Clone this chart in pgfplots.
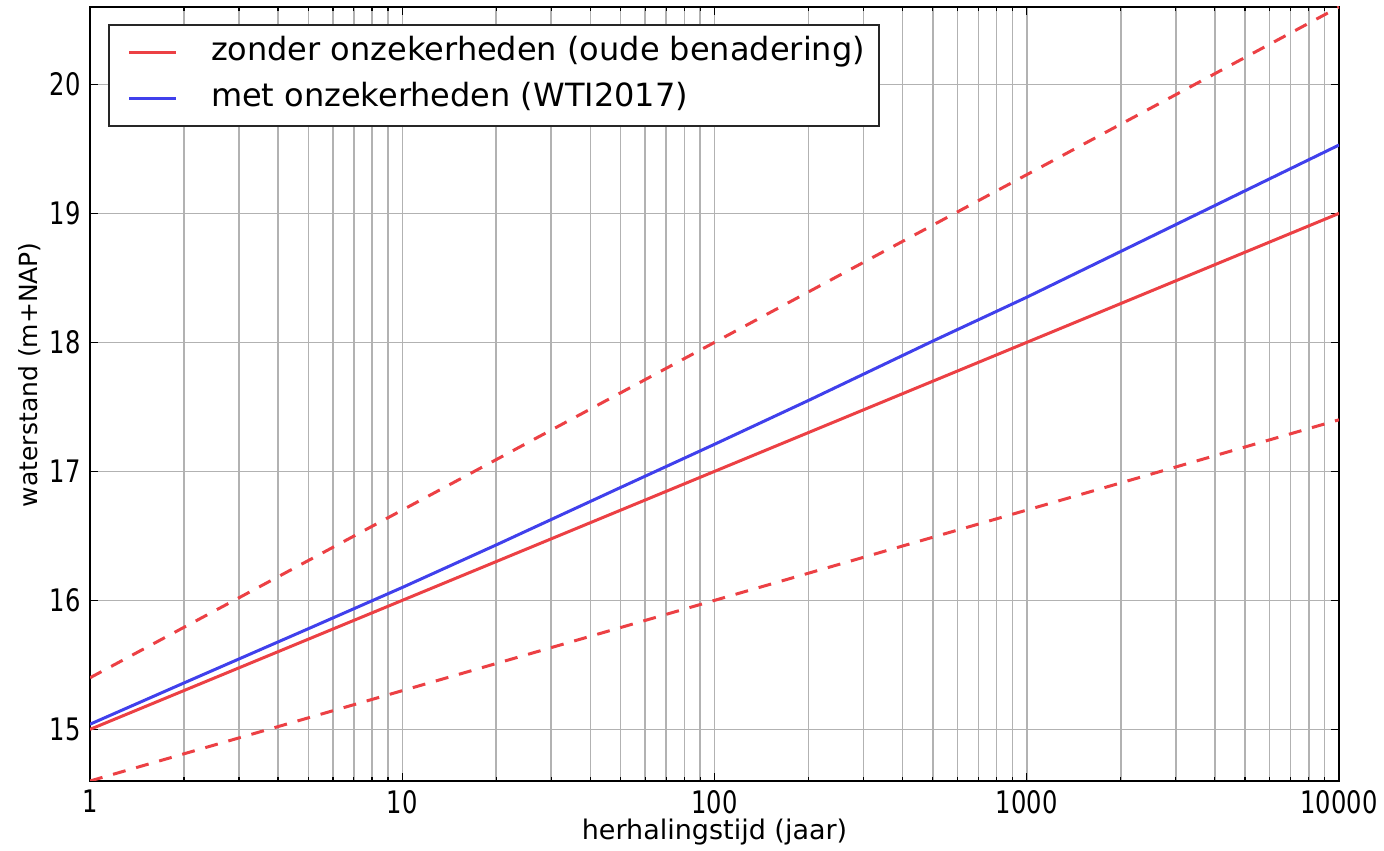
\documentclass[border=0pt]{standalone}
\usepackage{fontspec}
\setmainfont{DejaVu Sans}
\newfontfamily\ticklabelfont{DejaVu Sans}[FakeStretch=0.78]
\usepackage{pgfplots}
\pgfplotsset{compat=1.18}
\usetikzlibrary{calc}

\definecolor{lred}{RGB}{236,64,68}
\definecolor{lblue}{RGB}{64,64,236}
\definecolor{gridgray}{RGB}{178,178,178}

\begin{document}
\begin{tikzpicture}
\begin{axis}[
  scale only axis,
  width=624.5pt, height=387pt,
  xmode=log, log basis x=10,
  xmin=1, xmax=10000,
  ymin=14.6, ymax=20.6,
  xtick={1,10,100,1000,10000},
  xticklabels={1,10,100,1000,10000},
  minor xtick={2,3,4,5,6,7,8,9,
               20,30,40,50,60,70,80,90,
               200,300,400,500,600,700,800,900,
               2000,3000,4000,5000,6000,7000,8000,9000},
  ytick={15,16,17,18,19,20},
  yticklabels={15,16,17,18,19,20},
  tick align=inside,
  xtick pos=both, ytick pos=both,
  major tick length=4pt, minor tick length=2pt,
  every tick/.style={black, line width=0.6pt},
  axis line style={black, line width=1pt},
  xmajorgrids=true, xminorgrids=true, ymajorgrids=true,
  major grid style={gridgray, line width=0.75pt},
  minor grid style={gridgray, line width=0.75pt},
  xticklabel style={font=\fontsize{15.5}{16}\selectfont\ticklabelfont, inner sep=0pt, anchor=north, yshift=-4.5pt},
  yticklabel style={font=\fontsize{15.5}{16}\selectfont\ticklabelfont, inner sep=0pt, anchor=east, xshift=-4.5pt},
  xlabel={herhalingstijd (jaar)},
  ylabel={waterstand (m+NAP)},
  xlabel style={font=\fontsize{13.5}{14}\selectfont, inner sep=0pt, at={(axis description cs:0.5,-0.048)}, anchor=north},
  ylabel style={font=\fontsize{12.5}{14}\selectfont, inner sep=0pt, at={(axis description cs:-0.039,0.525)}, anchor=south, rotate=0},
  legend cell align=left,
  legend image code/.code={%
    \path[draw=none] (0pt,0pt) -- (44pt,0pt);
    \draw[#1] (3pt,0pt) -- (26.5pt,0pt);},
  legend style={
    at={(axis description cs:0,1)}, anchor=north west,
    xshift=9pt, yshift=-8.5pt,
    draw=black!85, line width=1pt, fill=white,
    inner xsep=7pt, inner ysep=6pt,
    row sep=7.5pt,
    font=\fontsize{16}{19}\selectfont,
    nodes={inner sep=0pt, text height=12pt, text depth=3.5pt},
  },
]
% design water level without uncertainties
\addplot[lred, line width=1.5pt] coordinates {(1,15.0) (10000,19.0)};
\addlegendentry{zonder onzekerheden (oude benadering)}
% with statistical and model uncertainties
\addplot[lblue, line width=1.5pt] coordinates {
  (1,15.04) (2,15.36) (5,15.78) (10,16.10) (20,16.43) (50,16.875)
  (100,17.21) (200,17.55) (500,18.01) (1000,18.35) (2000,18.705)
  (5000,19.175) (10000,19.53)};
\addlegendentry{met onzekerheden (WTI2017)}
% confidence band of the old approach
\addplot[lred, line width=1.5pt, dash pattern=on 6.5pt off 5.5pt, forget plot]
  coordinates {(1,15.4) (10000,20.6)};
\addplot[lred, line width=1.5pt, dash pattern=on 6.5pt off 5.5pt, forget plot]
  coordinates {(1,14.6) (10000,17.4)};
\coordinate (bl) at (rel axis cs:0,0);
\coordinate (tr) at (rel axis cs:1,1);
\end{axis}
\pgfresetboundingbox
\path[use as bounding box] ($(bl)+(-45pt,-35pt)$) rectangle ($(tr)+(22.5pt,3.5pt)$);
\end{tikzpicture}
\end{document}
